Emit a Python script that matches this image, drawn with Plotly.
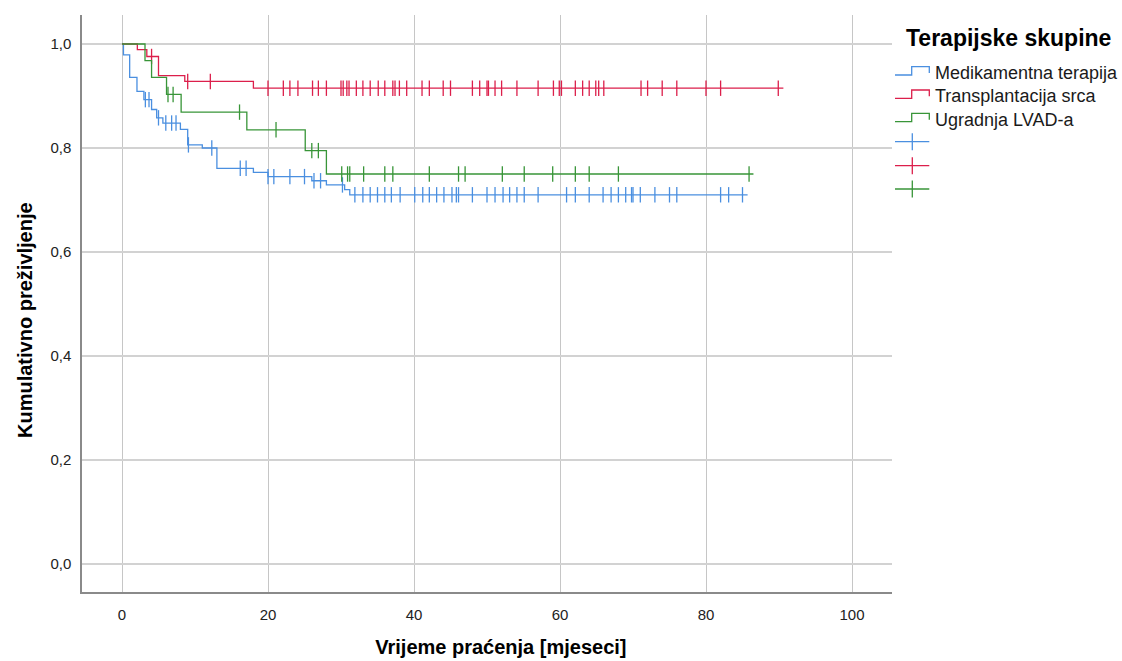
import numpy as np
import plotly.graph_objects as go

# ---------------- data ----------------
group_names = ["Medikamentna terapija", "Transplantacija srca", "Ugradnja LVAD-a"]
group_colors = ["#4a8fe0", "#dc1f4b", "#389538"]

# Medikamentna terapija
med_event_times = [0.2, 1.05, 2.05, 3.0, 4.05, 4.75, 5.6, 8.0, 9.0, 11.0, 13.0, 18.0,
                   20.0, 26.0, 28.0, 30.5, 31.2]
med_survival = [0.979, 0.936, 0.909, 0.893, 0.874, 0.858, 0.848, 0.836, 0.806, 0.800,
                0.761, 0.753, 0.745, 0.737, 0.729, 0.720, 0.710]
med_censored = [3.2, 3.7, 5.0, 6.0, 6.8, 7.4, 9.1, 12.3, 16.2, 17.0, 20.0, 20.8, 23.0,
                25.0, 26.3, 27.2, 30.2, 31.9, 33.0, 34.0, 35.0, 36.0, 36.9, 38.1, 40.1,
                41.2, 42.1, 43.1, 44.1, 45.2, 45.8, 46.1, 48.0, 50.0, 51.1, 52.2, 53.1,
                54.1, 55.1, 57.0, 60.9, 62.1, 64.0, 65.9, 67.0, 68.0, 69.0, 69.8, 70.0,
                71.0, 73.0, 75.0, 76.0, 82.0, 83.1, 85.0]
med_end = 85.7

# Transplantacija srca
tx_event_times = [2.1, 3.4, 5.0, 8.6, 18.0]
tx_survival = [0.989, 0.976, 0.939, 0.928, 0.915]
tx_censored = [4.05, 9.0, 12.1, 20.0, 22.1, 23.0, 24.1, 26.1, 26.9, 28.0, 30.0, 30.3,
               30.8, 31.1, 32.1, 33.0, 34.0, 35.1, 36.0, 37.1, 37.4, 38.0, 39.0, 41.1,
               42.1, 44.0, 45.0, 48.0, 49.0, 50.0, 50.2, 51.1, 52.0, 54.1, 57.0, 59.1,
               59.9, 60.2, 62.1, 63.1, 64.0, 64.9, 65.3, 66.0, 71.1, 72.0, 74.0, 76.0,
               80.0, 82.0, 89.9]
tx_end = 90.6

# Ugradnja LVAD-a
lvad_event_times = [3.15, 4.05, 6.1, 8.1, 17.1, 25.1, 28.0]
lvad_survival = [0.968, 0.936, 0.903, 0.869, 0.835, 0.795, 0.750]
lvad_censored = [6.3, 7.0, 16.1, 21.1, 26.0, 26.9, 30.1, 30.9, 31.2, 33.1, 36.0, 37.1,
                 42.1, 46.1, 47.0, 52.1, 55.1, 59.0, 62.1, 64.0, 68.0, 85.9]
lvad_end = 86.5

x_ticks = [0, 20, 40, 60, 80, 100]
y_ticks = [0.0, 0.2, 0.4, 0.6, 0.8, 1.0]
y_tick_labels = ["0,0", "0,2", "0,4", "0,6", "0,8", "1,0"]

x_title = "Vrijeme praćenja [mjeseci]"
y_title = "Kumulativno preživljenje"
legend_title = "Terapijske skupine"

# ---------------- figure ----------------
W, H = 1122, 661
ML, MR, MT, MB = 82, 230, 15, 69
FONT = "Liberation Sans, Arial, sans-serif"

groups = [
    (med_event_times, med_survival, med_censored, med_end),
    (tx_event_times, tx_survival, tx_censored, tx_end),
    (lvad_event_times, lvad_survival, lvad_censored, lvad_end),
]

fig = go.Figure()
for (ev, sv, cens, end), name, col in zip(groups, group_names, group_colors):
    xs = [0.0] + list(ev) + [end]
    ys = [1.0] + list(sv) + [sv[-1]]
    fig.add_trace(go.Scatter(
        x=xs, y=ys, mode="lines", line=dict(shape="hv", color=col, width=1.3),
        name=name, showlegend=False, hoverinfo="skip"))
    ev_arr = np.array(ev)
    sv_arr = np.array([1.0] + list(sv))
    idx = np.searchsorted(ev_arr, np.array(cens), side="right")
    cy = sv_arr[idx]
    fig.add_trace(go.Scatter(
        x=cens, y=cy, mode="markers",
        marker=dict(symbol="line-ns", size=11, color=col,
                    line=dict(width=1.3, color=col)),
        name=name + " (cenzurirano)", showlegend=False, hoverinfo="skip"))

# px -> paper helpers for the hand-drawn legend
PW = W - ML - MR
PH = H - MT - MB


def px_x(x):
    return (x - ML) / PW


def px_y(y):
    return (H - MB - y) / PH


shapes = []
annotations = []

annotations.append(dict(
    x=px_x(904), y=px_y(38), xref="paper", yref="paper", xanchor="left", yanchor="middle",
    text="<b>" + legend_title + "</b>", showarrow=False,
    font=dict(family=FONT, size=23, color="#000000")))

row_y = [75, 98.3, 121.7]
for name, col, by in zip(group_names, group_colors, row_y):
    ty = by - 8.3
    path = "M {} {} L {} {} L {} {} L {} {} L {} {}".format(
        px_x(895), px_y(by), px_x(911.7), px_y(by), px_x(911.7), px_y(ty),
        px_x(929.3), px_y(ty), px_x(929.3), px_y(by - 2))
    shapes.append(dict(type="path", path=path, xref="paper", yref="paper",
                       line=dict(color=col, width=1.3)))
    annotations.append(dict(
        x=px_x(933), y=px_y(by - 2), xref="paper", yref="paper", xanchor="left",
        yanchor="middle", text=name, showarrow=False,
        font=dict(family=FONT, size=18, color="#1a1a1a")))

cens_row_y = [141.7, 165.7, 189.0]
for col, cy in zip(group_colors, cens_row_y):
    shapes.append(dict(type="line", xref="paper", yref="paper",
                       x0=px_x(895), x1=px_x(929.3), y0=px_y(cy), y1=px_y(cy),
                       line=dict(color=col, width=1.3)))
    shapes.append(dict(type="line", xref="paper", yref="paper",
                       x0=px_x(912.3), x1=px_x(912.3), y0=px_y(cy - 8.5), y1=px_y(cy + 8.5),
                       line=dict(color=col, width=1.3)))

x_range = [-40 / 7.3, 770 / 7.3]
y_range = [-28 / 520, 1 + 29 / 520]

NB = "\u00a0"

fig.update_layout(
    width=W, height=H,
    margin=dict(l=ML, r=MR, t=MT, b=MB, pad=0),
    paper_bgcolor="white", plot_bgcolor="white",
    font=dict(family=FONT, size=15, color="#222222"),
    showlegend=False,
    shapes=shapes, annotations=annotations,
    xaxis=dict(
        range=x_range, tickvals=x_ticks, ticktext=[str(v) for v in x_ticks],
        showgrid=True, gridcolor="#c6c6c6", gridwidth=1, zeroline=False,
        showline=True, linecolor="#8a8a8a", linewidth=1.5, mirror=False,
        ticks="", ticklabelstandoff=8, automargin=False,
        tickfont=dict(family=FONT, size=15, color="#222222"),
        title=dict(text="<b>" + NB * 5 + x_title + "</b>", standoff=18,
                   font=dict(family=FONT, size=20, color="#000000")),
    ),
    yaxis=dict(
        range=y_range, tickvals=y_ticks, ticktext=y_tick_labels,
        showgrid=True, gridcolor="#d2d2d2", gridwidth=2, zeroline=False,
        showline=True, linecolor="#8a8a8a", linewidth=1.5, mirror=False,
        ticks="", ticklabelstandoff=6, automargin=False,
        tickfont=dict(family=FONT, size=15, color="#222222"),
        title=dict(text="<b>" + y_title + NB * 6 + "</b>", standoff=12,
                   font=dict(family=FONT, size=20, color="#000000")),
    ),
)

fig.write_html("out.html", config={"displayModeBar": False},
               post_script="document.body.style.margin='0';")
